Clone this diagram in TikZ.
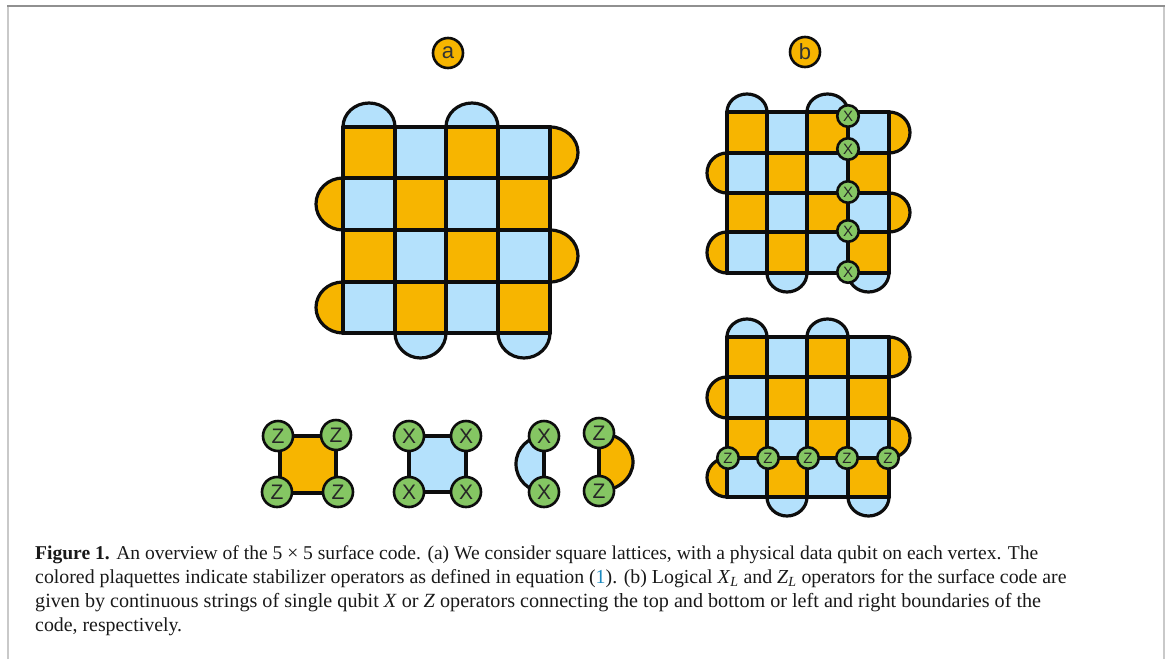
\documentclass[tikz,border=0pt]{standalone}
\usepackage{fontspec}
\setmainfont{Liberation Serif}
\setsansfont{Liberation Sans}
\usetikzlibrary{calc}
\definecolor{plaqO}{HTML}{F7B500}
\definecolor{plaqB}{HTML}{B4E1FC}
\definecolor{qub}{HTML}{85C663}
\definecolor{frmA}{HTML}{C9C9C9}
\definecolor{frmB}{HTML}{909090}
\definecolor{eqref}{HTML}{1C8AC0}
\tikzset{
  gridline/.style={line width=4pt,black!95,line cap=round,line join=round},
  bumpline/.style={line width=3.2pt,black!95},
  qubit/.style={circle,draw=black!95,line width=2.6pt,fill=qub,minimum size=#1,inner sep=0pt,font=\sffamily\fontsize{21}{21}\selectfont,text=black!85},
  qubit/.default=30pt,
  smallqubit/.style={qubit=21.5pt,font=\sffamily\fontsize{15}{15}\selectfont},
  tag/.style={circle,draw=black!95,line width=2.6pt,fill=plaqO,minimum size=30pt,inner sep=0pt,font=\sffamily\fontsize{22}{22}\selectfont,text=black!80},
  captext/.style={anchor=base west,inner sep=0pt,text=black!90}
}
% bump from point A to point B, bulging by vector d
\newcommand{\bumpshape}[4]{%
  \coordinate (bc) at ($(#2)!.5!(#3)$);
  \coordinate (bm) at ($(bc)+(#4)$);
  \path[fill=#1] (#2) .. controls ($(#2)+.552*(#4)$) and ($(bm)+.552*(#2)-.552*(bc)$) .. (bm)
     .. controls ($(bm)+.552*(#3)-.552*(bc)$) and ($(#3)+.552*(#4)$) .. (#3) -- cycle;
  \draw[bumpline] (#2) .. controls ($(#2)+.552*(#4)$) and ($(bm)+.552*(#2)-.552*(bc)$) .. (bm)
     .. controls ($(bm)+.552*(#3)-.552*(bc)$) and ($(#3)+.552*(#4)$) .. (#3);
}
% surface code lattice: prefix, x list, y list, bump sizes top/right/left/bottom
\newcommand{\lattice}[7]{%
  \foreach \xx [count=\i from 0] in {#2}{
    \foreach \yy [count=\j from 0] in {#3}{
      \coordinate (#1-\i-\j) at (\xx,\yy);
    }
  }
  \bumpshape{plaqB}{#1-0-0}{#1-1-0}{0,-#4}
  \bumpshape{plaqB}{#1-2-0}{#1-3-0}{0,-#4}
  \bumpshape{plaqO}{#1-4-0}{#1-4-1}{#5,0}
  \bumpshape{plaqO}{#1-4-2}{#1-4-3}{#5,0}
  \bumpshape{plaqO}{#1-0-1}{#1-0-2}{-#6,0}
  \bumpshape{plaqO}{#1-0-3}{#1-0-4}{-#6,0}
  \bumpshape{plaqB}{#1-1-4}{#1-2-4}{0,#7}
  \bumpshape{plaqB}{#1-3-4}{#1-4-4}{0,#7}
  \foreach \i in {0,...,3}{
    \foreach \j in {0,...,3}{
      \pgfmathtruncatemacro{\ii}{\i+1}
      \pgfmathtruncatemacro{\jj}{\j+1}
      \pgfmathtruncatemacro{\prty}{mod(\i+\j,2)}
      \ifnum\prty=0\def\cc{plaqO}\else\def\cc{plaqB}\fi
      \fill[\cc] (#1-\i-\j) rectangle (#1-\ii-\jj);
    }
  }
  \foreach \k in {0,...,4}{
    \draw[gridline] (#1-\k-0) -- (#1-\k-4);
    \draw[gridline] (#1-0-\k) -- (#1-4-\k);
  }
}
\begin{document}
\begin{tikzpicture}[x=1pt,y=-1pt]
\useasboundingbox (0,0) rectangle (1167,659);
\fill[white] (0,0) rectangle (1167,659);
\draw[frmA,line width=2pt] (8,659) -- (8,6);
\draw[frmA,line width=2pt] (1164,659) -- (1164,6);
\draw[frmB,line width=1.2pt] (7,6) -- (1165,6);

\node[tag] (taga) at (448,53) {a};
\node[tag] (tagb) at (805,52) {b};

\lattice{A}{343,395,446,498,550}{127,178,230,282,333}{24}{28}{27}{25}
\lattice{B}{727,767,807,848,889}{112,153,193,232,273}{18}{21}{20}{19}
\lattice{C}{727,767,807,848,889}{337,377,418,458,497}{18}{21}{20}{19}

% logical X string
\foreach \yy [count=\n] in {116,149,192,231,272}{
  \node[smallqubit] (xl\n) at (848,\yy) {X};
}
% logical Z string
\foreach \xx [count=\n] in {728,768,808,847,888}{
  \node[smallqubit] (zl\n) at (\xx,458) {Z};
}

% weight four Z plaquette
\coordinate (za) at (280,436); \coordinate (zb) at (336,436);
\coordinate (zc) at (280,493); \coordinate (zd) at (336,493);
\path[fill=plaqO] (za) -- (zb) -- (zd) -- (zc) -- cycle;
\draw[gridline] (za) -- (zb) -- (zd) -- (zc) -- cycle;
\node[qubit] (z1) at (278,436) {Z}; \node[qubit] (z2) at (336,435) {Z};
\node[qubit] (z3) at (277,492) {Z}; \node[qubit] (z4) at (338,492) {Z};

% weight four X plaquette
\coordinate (xa) at (409,436); \coordinate (xb) at (466,436);
\coordinate (xc) at (409,492); \coordinate (xd) at (466,492);
\path[fill=plaqB] (xa) -- (xb) -- (xd) -- (xc) -- cycle;
\draw[gridline] (xa) -- (xb) -- (xd) -- (xc) -- cycle;
\node[qubit] (x1) at (xa) {X}; \node[qubit] (x2) at (xb) {X};
\node[qubit] (x3) at (xc) {X}; \node[qubit] (x4) at (xd) {X};

% weight two plaquettes
\coordinate (xe) at (544,436); \coordinate (xf) at (544,492);
\coordinate (ze) at (599,433); \coordinate (zf) at (599,491);
\bumpshape{plaqB}{xe}{xf}{-28,0}
\draw[gridline] (xe) -- (xf);
\bumpshape{plaqO}{ze}{zf}{34,0}
\draw[gridline] (ze) -- (zf);
\node[qubit] (x5) at (xe) {X}; \node[qubit] (x6) at (xf) {X};
\node[qubit] (z5) at (ze) {Z}; \node[qubit] (z6) at (zf) {Z};

% caption
\node[captext,font=\fontsize{19.55}{24}\selectfont] (l1) at (35,559) {\textbf{Figure 1.} An overview of the 5 × 5 surface code. (a) We consider square lattices, with a physical data qubit on each vertex. The};
\node[captext,font=\fontsize{19.85}{24}\selectfont] (l2) at (35,583) {colored plaquettes indicate stabilizer operators as defined in equation (\textcolor{eqref}{1}). (b) Logical \textit{X}\textsubscript{\textit{L}} and \textit{Z}\textsubscript{\textit{L}} operators for the surface code are};
\node[captext,font=\fontsize{20.15}{24}\selectfont] (l3) at (35,607) {given by continuous strings of single qubit \textit{X} or \textit{Z} operators connecting the top and bottom or left and right boundaries of the};
\node[captext,font=\fontsize{19.85}{24}\selectfont] (l4) at (35,631) {code, respectively.};
\end{tikzpicture}
\end{document}
